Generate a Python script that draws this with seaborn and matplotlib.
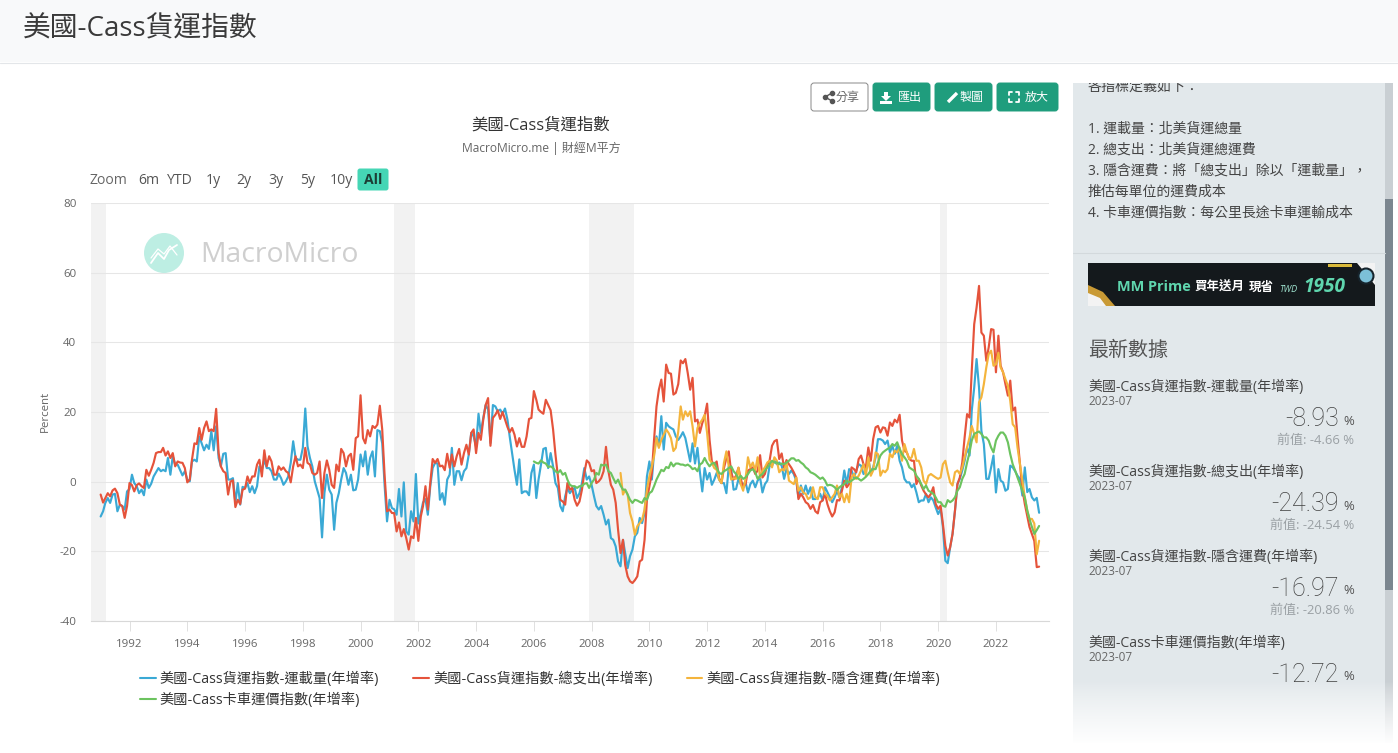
import numpy as np
import pandas as pd
import matplotlib
matplotlib.use("Agg")
import matplotlib.pyplot as plt
import matplotlib.dates as mdates
from matplotlib.patches import Rectangle, FancyBboxPatch, Circle, Polygon
import seaborn as sns

sns.set_theme(style="white")
FONT = ['Open Sans', 'Noto Sans CJK TC', 'DejaVu Sans']
plt.rcParams['font.family'] = FONT
plt.rcParams['axes.unicode_minus'] = False

start_month = "1991-01-01"
volume = [
 -10,-8.5,-6.1,-4.7,-6.1,-3.7,-3.5,-8.5,-6.6,-7,-8,-2.8,
 -2.1,2,-0.4,-1.3,-3.3,-2.3,-3.9,0.6,-1.8,-0.6,1.5,2.7,
 3.9,3,3.4,3,6.8,2,7.3,4.9,4.9,3.4,1.8,3,
 0.6,0.1,5.8,6.3,5.8,13,11,9,10.6,9.4,14.5,9,
 15.9,6.8,4.4,8,8.2,0.6,0.6,1,-6.1,-0.4,-6.6,-1.5,
 -1.8,-0.4,-3,-1.3,-3.3,-1.3,4.4,3.4,6.3,3.9,3.9,3,
 0.6,0.6,2.3,1,-0.9,0.1,1.5,5.4,11.6,6.8,6.3,6.3,
 9.7,21,10.2,6.8,4.4,0.1,-2.3,-4.7,-16,-3.3,2,-2.3,
 -3.7,-13.8,-6.1,-3.3,0.6,3.9,2.5,-0.9,2,-2.5,-2.3,0.6,
 7.8,4.4,8.7,2,6.8,8.7,1.5,14.8,14.5,11,-1.3,-11.4,
 -5.2,-7.6,-7.9,-9.5,-2.1,-10,-0.2,-14.3,-15.2,-8.5,-11.4,2.2,
 -12,-9,-6,-5,-9.5,-1.3,3.9,5.4,5.2,-5.2,-3.3,-6.6,
 0.6,2,9.7,-0.9,3,3,0.4,3,3.9,7.8,14,13,
 10.1,19.5,14,18.3,22,20.7,11.1,22,21.6,20.2,20.7,19.5,
 21,17.8,13,8.2,3.4,-0.9,6.4,-3.3,-2.8,-2.8,-3.9,2.5,
 4.9,-4.7,0.6,4.9,9.4,9.7,3.9,8.2,4.4,-0.4,-1.8,-7,
 -8.5,-4.2,-1.8,-3.3,-2.3,-1.8,-4.7,-3.3,-0.4,3.9,0.6,1.5,
 -0.9,-4.2,-7,-8,-7,-9.5,-12.3,-10.9,-16.2,-16.7,-18.6,-22.9,
 -24.3,-16.7,-20.5,-24.8,-21.4,-19.5,-15.7,-14.7,-10.4,-11.9,-9,1.5,
 5.8,0.6,8.2,13,10.1,18.8,9.2,16.9,15.9,15.4,15,13,
 12,13,14.2,12.5,9.2,5.8,11,5.2,9.7,2.9,-2.8,3.9,
 0.6,2.5,-0.9,0.6,2.5,0.6,-0.4,-0.4,-3.3,4.4,3.4,-2.3,
 -2.1,0.8,-0.7,-0.7,-0.2,-3.1,-0.7,0.3,-1.6,0.3,1.2,-3.1,
 -0.7,0.3,4.6,4.6,6,5,5.5,4.6,0.8,3.6,2.2,3.2,
 2.2,0.3,-4.5,-1.1,-3.5,-1.1,-3.5,-1.6,-5,-5,-4.5,-3.5,
 -5.4,-1.6,-3,-4.5,-5.9,-4.5,-2.6,-4.5,-1.6,3.2,-0.7,3.6,
 3.2,1.2,3.2,5,4.6,2.2,3.2,6.5,2.7,4.1,7,12.2,
 12.2,11.8,10.8,11.8,8.4,10.3,8,10.3,6,4.1,0.8,-0.2,
 -0.2,-1.6,-0.7,-3.1,-5.9,-5.4,-5.4,-3.5,-5.9,-4.5,-5.4,-7.4,
 -9.3,-7.8,-13,-22.7,-23.4,-18.8,-15,-8.3,-0.7,0.8,3.2,6,
 9.8,7.5,20.4,27,35.2,27,14.6,10.8,0.8,0.8,4.1,7.5,
 -3.1,3.6,0.3,-0.2,-2.6,-2.1,4.6,4.1,3,1.7,0.8,-4,
 4.1,-3,-2.1,-4.5,-5.4,-4.66,-8.93,
]
expenditures = [
 -3.7,-6,-4.7,-3.3,-4.2,-2.5,-2,-3.3,-6.6,-7,-10.4,-7,
 -0.4,-1,-2.8,-1,-0.5,-1.3,-1.8,3.4,1.7,3.4,5.4,8.2,
 8.5,8.5,9.7,7.5,8.7,6.8,8.2,4.4,5.8,5.5,5.4,3.9,
 -0.2,0.6,6.3,11,10.8,15.4,12,15.4,17.3,14.5,15,14.5,
 20.9,8.2,4.4,3,2.5,-3.7,0,0.4,-7.3,-5.2,-6.4,-2.3,
 -2,1.5,-0.4,1.5,1.5,4.9,6.3,1.5,9,4.4,7.3,5.8,
 2,2,4.4,3.4,4.1,3,2.5,-0.2,4.4,7.3,4.4,4.9,
 3.9,9.7,5.4,4.9,2.5,2,2.5,5.8,-4.7,2.5,6.1,3.4,
 -0.9,-1.8,4.9,3,9.4,8.2,4.4,7.3,8,3.4,12.5,13,
 24.8,12.5,11,14.8,13,16,15.4,16.4,21.8,15,1.5,-8.5,
 -8,-9,-9,-14.3,-11.7,-15.7,-13.6,-16.2,-19.5,-15.7,-16.2,-10.4,
 -17,-10,-7,-1.3,-8,-0.4,6.5,5.4,6.5,4.4,4.6,3.3,
 8,4,7.8,4.4,7.3,9.4,4.9,8.2,10.6,7.8,14,15,
 8.2,14,12,17.8,22,24,10.3,18.3,19.2,20.5,18,20,
 17.8,15.7,14.2,15.4,13.5,10.1,12.5,10,10,13,18,18.3,
 26,23.5,20.7,20,19.5,23.5,22,20.5,15,7.8,1.5,-5.2,
 -5.7,-6.6,-0.4,-2.3,-1.8,-5.2,-6.9,-5.7,-2.3,2.5,6.1,5.4,
 3,3.3,-0.4,0.1,1,3,10,3,-0.9,-2.3,-6.1,-13.8,
 -20.5,-16.7,-23.9,-27.2,-28.6,-29.1,-28.3,-27.2,-22.9,-22.4,-16.7,-5.2,
 -1.3,2.5,12,21.6,26.4,29.3,23,33.6,31.2,31,25,25.5,
 28,34.8,34,35.2,31.2,26.4,29.8,17.3,17.8,14,16.8,18.8,
 22.4,12,5.8,4.9,5.8,1,-0.4,3.9,6.8,8.7,2.5,0.6,
 1.7,4,0.8,-1.6,-0.7,3.2,3.6,4.1,2.2,3.2,7.6,1.2,
 2.2,5,6,10.3,11.6,12,6.5,8.1,4,6.2,5,4,
 2.7,1.2,-5,-3.5,-4.5,-5.9,-6.4,-7.8,-6.7,-8.5,-9.1,-5.9,
 -5.4,-3.5,-6.4,-8.5,-10,-8.8,-5.3,-5.4,-2.6,0.3,-1.6,-0.7,
 4.1,3.6,2.7,6.5,7.5,5,4.1,9.8,6,12.2,15.6,16,
 14.1,15.6,15.4,13.2,17,16,17.8,17,19.2,11.8,8.9,8.4,
 6.5,6,6,-0.7,0.8,-1.1,-2.6,-3.7,-4.5,-3.5,-1.6,-6.4,
 -7.8,-6.9,-12.1,-18.4,-21.2,-18.8,-15,-8.3,-0.7,1.2,5.5,12.7,
 19.4,18.4,31.8,45.2,50,56.2,42.8,41.9,34.7,38.5,43.8,43.6,
 31.4,41.9,33.3,31.4,28,24.7,29,20.4,21.3,12.7,5,-2,
 -6.4,-9.8,-13,-15,-17,-24.54,-24.39,
]
freight_rate_start = "2009-01-01"
implied_rate = [
 2.5,-3.7,-2.3,-3.7,-9,-11.4,-15.2,-12.8,-11.9,-10.9,-8,-2.3,
 1.5,4.4,7.3,12.5,9.7,12,13.5,15,14,12.5,8.8,9.7,
 14.4,21.6,17.8,20.2,18.8,20.2,15.9,10.1,15.4,16.8,17.8,19.2,
 14,6.3,5.4,3.9,3.4,0.6,-0.4,5.4,8.7,4.4,0.6,1,
 0.8,4,-0.7,-2.6,0.8,7,4.1,5.5,3.2,7,1.2,3.2,
 4.1,5.5,6,4.1,7,6,2.7,3.6,3.2,5.5,0.3,-0.2,
 -0.7,1.2,-2.6,-1.6,-3.1,-3.5,-5,-4.5,-1.6,-4.5,-5,-1.6,
 -1.6,-3.5,-4,-5.4,-4.5,-3.5,-1.1,-4.5,-3.5,-5.9,-3.5,-5.9,
 1.2,2.2,0.8,1.7,3.2,5,1.7,7,1.7,3.2,8.4,7.9,
 1.7,3.2,2.7,3.6,8,7,8.9,8.4,9.8,6,10.8,8.4,
 6.5,7,9.4,6,6,4.1,0.3,-0.7,1.7,2.2,1.7,1.2,
 0.8,1.2,5,6,2.7,-0.2,-1.1,2.7,3.2,2.2,4.1,7,
 9.8,12.7,16,13.7,11.3,22.8,24.2,28,32.8,36.6,37.6,33.3,
 33.7,37,32.8,31.4,29.4,27.5,23.2,16.5,15.6,9.8,5,0.3,
 -4.5,-8.3,-10.7,-10.7,-12,-20.86,-16.97,
]
truck_start = "2006-01-01"
truckload_index = [
 5.8,5.4,5.2,6.1,5.5,5.2,4.2,4.4,3.9,3,2.5,3.3,
 2,2.5,0.6,-0.9,-1.3,-1.3,-1.8,-1.3,-1.3,-0.6,-0.4,-1.8,
 -0.4,0.6,2.5,2,4.9,4.6,4.9,3,2.5,1,-0.4,0.6,
 -1.1,-2.3,-2.3,-3.7,-5.2,-6.1,-5.2,-5.4,-5.8,-6.1,-4.7,-5.2,
 -3.3,-2.8,-1.3,0.6,2,3.4,3,4.2,3.9,5.5,4.4,5.2,
 5.2,4.9,4.9,4.6,4.9,4.4,3.6,3.9,3,4.9,5.4,6.8,
 5.4,4.4,5.2,5.4,3.9,2.5,2.2,3,3.4,3.9,4.4,3,
 2.2,0.8,1.7,0.8,1.2,2.2,3.2,3.6,2.7,0.8,1.7,2.2,
 3.2,4.1,5,6,5.5,5.5,5,5.2,5,5.5,6,6.7,
 6.7,6,6.2,5.5,5,4.1,3.6,2.7,2.4,2,1.4,0.8,
 1.2,0.3,-1.1,-0.9,-1.1,-1.6,-2.4,-1.6,-1.1,-0.7,0.3,-0.2,
 0.3,0.8,1.2,0.8,0.3,0.8,1.4,2.2,3.2,3.6,3.6,5.5,
 7.5,8.4,8.9,9.4,9.8,10.8,10.3,11.3,9.4,7.9,7,6,
 4.1,3.6,3.2,1.7,0.8,-0.7,-2.1,-1.1,-2.6,-3,-3.5,-4.5,
 -5.9,-5.9,-6.9,-7.2,-5.3,-5.9,-5.4,-4.5,-2.6,-1.6,0.8,2.2,
 5.5,8.4,11.8,13.7,14.1,14.4,13.7,12.7,12.7,11.8,9.8,8.4,
 11.8,13.2,14.1,14.1,13.2,11.3,7.9,5,3.2,1.2,-0.7,-2.6,
 -4.5,-8.3,-10.7,-13,-15,-13.9,-12.72,
]
recession_start = ["1990-09-01", "2001-03-01", "2007-12-01", "2020-01-20"]
recession_end = ["1991-03-15", "2001-11-15", "2009-06-15", "2020-04-20"]
series_names = ["美國-Cass貨運指數-運載量(年增率)", "美國-Cass貨運指數-總支出(年增率)",
                "美國-Cass貨運指數-隱含運費(年增率)", "美國-Cass卡車運價指數(年增率)"]
series_colors = ["#3aa9d5", "#e5533b", "#f4b43c", "#6cc35f"]
year_ticks = list(range(1992, 2023, 2))
y_ticks = [-40, -20, 0, 20, 40, 60, 80]
range_buttons = ["6m", "YTD", "1y", "2y", "3y", "5y", "10y"]
range_button_x = [149, 180, 213, 244, 276, 308, 341]
sidebar_defs = ["1. 運載量：北美貨運總量", "2. 總支出：北美貨運總運費",
                "3. 隱含運費：將「總支出」除以「運載量」，", "推估每單位的運費成本",
                "4. 卡車運價指數：每公里長途卡車運輸成本"]
latest_value = ["-8.93", "-24.39", "-16.97", "-12.72"]
previous_value = ["-4.66", "-24.54", "-20.86", None]

W, H = 1398, 753
fig = plt.figure(figsize=(W / 100, H / 100), dpi=100, facecolor="white")

# page layer, pixel coordinates
bg = fig.add_axes([0, 0, 1, 1], zorder=0)
bg.set_xlim(0, W); bg.set_ylim(H, 0); bg.axis("off")

def pt(px):
    return px * 0.72

def T(x, y, s, size, color="#444444", ha="left", va="center", **kw):
    fam = kw.pop("family", FONT)
    return bg.text(x, y, s, fontsize=pt(size), color=color, ha=ha, va=va, family=fam, **kw)

bg.add_patch(Rectangle((0, 0), W, 62, fc="#f8f9fa", ec="none"))
T(23, 29, "美國-Cass貨運指數", 27.8, "#3a3a3a")

# sidebar
SB = "#e2e8eb"
bg.add_patch(Rectangle((1073, 83), 312, 660, fc=SB, ec="none"))
bg.add_patch(Rectangle((1385, 83), 8, 660, fc="#c9cfd3", ec="none"))
bg.add_patch(Rectangle((1385, 199), 8, 391, fc="#7b868f", ec="none"))
T(1088, 87, "各指標定義如下：", 14)
bg.add_patch(Rectangle((1073, 63), 325, 20, fc="white", ec="none", zorder=3))
bg.plot([0, W], [62.5, 62.5], color="#e3e6e9", lw=0.8, zorder=5)
for yy, s in zip([129, 150, 171, 192, 213], sidebar_defs):
    T(1088, yy, s, 13.9)
bg.plot([1073, 1385], [252.5, 252.5], color="#d3d9dc", lw=0.8)
bg.add_patch(Rectangle((1088, 263), 287, 43, fc="#14191c", ec="none"))
bg.add_patch(Polygon([[1088, 306], [1088, 285], [1103, 292], [1115, 306]], fc="#c99a35", ec="none"))
bg.add_patch(Polygon([[1088, 306], [1088, 293], [1100, 298], [1106, 306]], fc="#f3f3f3", ec="none"))
bg.add_patch(Polygon([[1357, 263], [1375, 263], [1375, 285]], fc="#f3f3f3", ec="none"))
bg.add_patch(Circle((1366, 276), 7.5, fc="#7cc0d8", ec="#16242c", lw=1.5))
bg.add_patch(Rectangle((1328, 264), 24, 2.5, fc="#d9b93a", ec="none"))
T(1117, 287, "MM Prime", 14.5, "#5fd6ae", fontweight="bold")
T(1195, 287, "買年送月", 12.5, "white", fontweight="bold")
T(1249, 287, "現省", 12.5, "white", fontweight="bold")
T(1279, 289, "TWD", 9, "#9fe3cf", style="italic")
T(1303, 287, "1950", 19, "#5fd6ae", style="italic", fontweight="bold")
T(1088, 351, "最新數據", 20, "#555555")

LIGHT = ['Roboto', 'Open Sans', 'DejaVu Sans']
for i, (name, val, prev, y0) in enumerate(zip(series_names, latest_value, previous_value, [386, 471, 556, 642])):
    T(1088, y0 + 1, name, 14)
    T(1088, y0 + 15.5, "2023-07", 11.8, "#666666")
    T(1339, y0 + 33, val, 25, "#3f3f3f", ha="right", family=LIGHT, fontweight="light")
    T(1354, y0 + 35, "%", 13, "#555555", ha="right")
    if prev is not None:
        T(1354, y0 + 54, f"前值: {prev} %", 13, "#9aa0a4", ha="right")

# fade at the bottom of the sidebar
fade = np.ones((64, 2, 4)); fade[..., 3] = np.linspace(0, 1, 64)[:, None] ** 0.8
bg.imshow(fade, extent=(1070, 1398, 745, 681), aspect="auto", zorder=4)
bg.add_patch(Rectangle((1070, 745), 328, 8, fc="white", ec="none", zorder=4))
bg.set_xlim(0, W); bg.set_ylim(H, 0)

# toolbar
def button(x0, x1, tx, label, filled=True):
    fc = "#1f9d7d" if filled else "white"
    ec = "#1f9d7d" if filled else "#888888"
    bg.add_patch(FancyBboxPatch((x0 + 3, 83 + 3), x1 - x0 - 6, 28 - 6,
                                boxstyle="round,pad=3,rounding_size=3", fc=fc, ec=ec, lw=0.7))
    T(tx, 97.5, label, 12, "white" if filled else "#666666")

button(811, 868, 836, "分享", False)
button(873, 930, 898, "匯出")
button(935, 992, 960, "製圖")
button(997, 1058, 1025, "放大")
# button icons
bg.plot([832, 825, 832], [93, 97, 101], color="#555555", lw=1)
bg.scatter([832, 825, 832], [93, 97, 101], s=9, color="#555555", zorder=3)
bg.add_patch(Polygon([[884, 92], [888, 92], [888, 96], [891, 96], [886, 101], [881, 96], [884, 96]], fc="white", ec="none"))
bg.add_patch(Rectangle((880, 101), 12, 3, fc="white", ec="none"))
bg.plot([948, 957], [102, 93], color="white", lw=2.4, solid_capstyle="butt")
for sx, sy in [(1009, 92), (1019, 92), (1009, 102), (1019, 102)]:
    dx = 1 if sx < 1015 else -1
    dy = 1 if sy < 97 else -1
    bg.plot([sx + 3 * dx, sx, sx], [sy, sy, sy + 3 * dy], color="white", lw=1.3)

# chart heading and range selector
T(541, 125, "美國-Cass貨運指數", 16.4, "#333333", ha="center")
T(541, 148, "MacroMicro.me | 財經M平方", 12, "#666666", ha="center")
T(90, 180, "Zoom", 14, "#666666")
for xx, s in zip(range_button_x, range_buttons):
    T(xx, 180, s, 14, "#555555", ha="center")
bg.add_patch(FancyBboxPatch((359, 170), 28, 19, boxstyle="round,pad=1.5,rounding_size=2.5", fc="#45d6b5", ec="none"))
T(373, 180, "All", 14, "#1c3d35", ha="center", fontweight="bold")

# chart
ax = fig.add_axes([91 / W, 1 - 621 / H, 958 / W, 418 / H], zorder=2)
ax.patch.set_alpha(0)
dates = pd.date_range(start_month, periods=len(volume), freq="MS")
dates3 = pd.date_range(freight_rate_start, periods=len(implied_rate), freq="MS")
dates4 = pd.date_range(truck_start, periods=len(truckload_index), freq="MS")

for a, b in zip(recession_start, recession_end):
    ax.axvspan(pd.Timestamp(a), pd.Timestamp(b), color="#f2f2f2", lw=0, zorder=0)

LW = 1.55
frames = [(dates, volume), (dates, expenditures), (dates3, implied_rate), (dates4, truckload_index)]
for (d, v), name, color in zip(frames, series_names, series_colors):
    sns.lineplot(x=d, y=v, ax=ax, color=color, lw=LW, label=name, errorbar=None, zorder=3)

ax.set_xlim(pd.Timestamp("1990-09-01"), pd.Timestamp("2023-11-03"))
ax.set_ylim(-40, 80)
ax.set_yticks(y_ticks)
ax.set_xticks([pd.Timestamp(f"{y}-01-01") for y in year_ticks])
ax.xaxis.set_major_formatter(mdates.DateFormatter("%Y"))
ax.grid(axis="y", color="#e6e6e6", lw=0.75, zorder=1)
ax.set_axisbelow(True)
for s in ["top", "left", "right"]:
    ax.spines[s].set_visible(False)
ax.spines["bottom"].set_color("#d8d8d8")
ax.spines["bottom"].set_linewidth(0.8)
ax.tick_params(axis="x", length=7, width=0.7, color="#e0e0e0", labelsize=pt(11.5), labelcolor="#666666", pad=6, bottom=True)
ax.tick_params(axis="y", length=0, labelsize=pt(11.5), labelcolor="#666666", pad=10.5)
ax.set_ylabel("Percent", fontsize=pt(11.5), color="#666666", labelpad=0)
ax.yaxis.set_label_coords((51 - 91) / 958, (621 - 411) / 418)
ax.set_xlabel("")

# watermark
bg.add_patch(Circle((164, 253), 20, fc="#bdeee3", ec="none"))
bg.plot([151, 158, 164, 169, 177], [263, 253, 259, 250, 245], color="white", lw=1.3)
bg.plot([151, 158, 164, 170, 177], [258, 249, 254, 246, 255], color="white", lw=0.9)
T(200, 255, "MacroMicro", 28.4, "#cfcfcf")

handles, labels = ax.get_legend_handles_labels()
order = [0, 3, 1, 2]   # matplotlib fills columns; this gives the row order of the original
leg = ax.legend([handles[i] for i in order], [labels[i] for i in order],
                loc="upper left", bbox_to_anchor=(140 / W, 1 - 672 / H), bbox_transform=fig.transFigure,
                ncol=3, frameon=False, fontsize=pt(14.2), handlelength=1.1, handletextpad=0.3,
                columnspacing=2.4, labelspacing=0.36, borderpad=0, borderaxespad=0)
for t in leg.get_texts():
    t.set_color("#333333")
for h in leg.get_lines():
    h.set_linewidth(1.5)

fig.savefig("out.png", dpi=100)
